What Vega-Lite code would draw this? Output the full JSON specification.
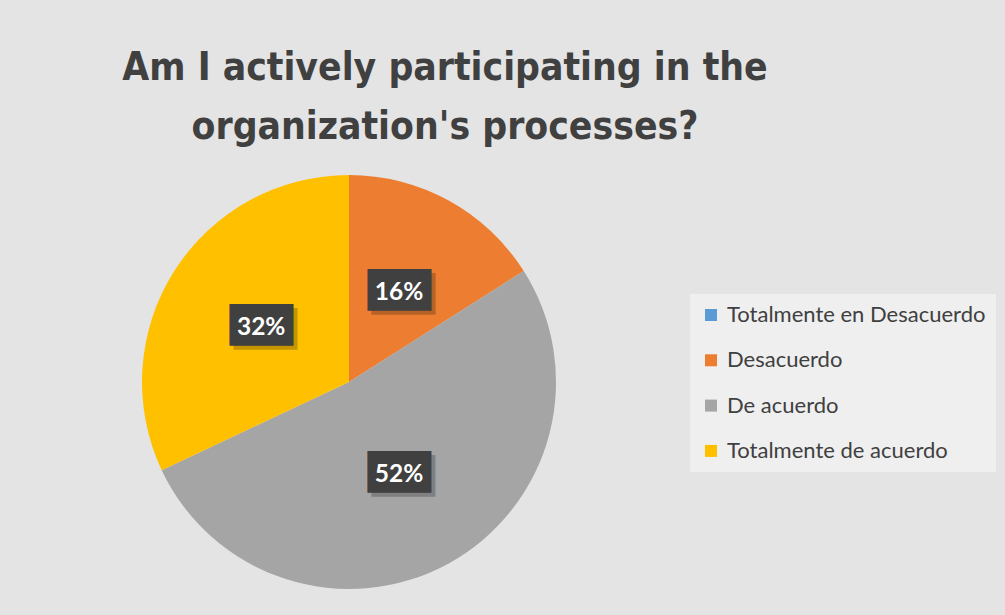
{
  "$schema": "https://vega.github.io/schema/vega-lite/v6.json",
  "width": 414,
  "height": 414,
  "autosize": {"type": "none"},
  "padding": {"left": 142, "top": 175, "right": 449, "bottom": 26},
  "background": "#e4e4e4",
  "title": {
    "text": ["Am I actively participating in the", "organization's processes?"],
    "anchor": "middle",
    "frame": "group",
    "dx": 96,
    "offset": 28,
    "font": "'Liberation Sans Narrow', 'DejaVu Sans Condensed', Lato",
    "fontSize": 38.7,
    "fontWeight": "bold",
    "color": "#404040",
    "lineHeight": 59
  },
  "data": {
    "values": [
      {"cat": "Totalmente en Desacuerdo", "v": 0, "o": 1},
      {"cat": "Desacuerdo", "v": 0.16, "o": 2},
      {"cat": "De acuerdo", "v": 0.52, "o": 3},
      {"cat": "Totalmente de acuerdo", "v": 0.32, "o": 4}
    ]
  },
  "encoding": {
    "theta": {"field": "v", "type": "quantitative", "stack": true},
    "order": {"field": "o", "type": "quantitative"}
  },
  "layer": [
    {
      "mark": {"type": "arc", "outerRadius": 207, "stroke": null},
      "encoding": {
        "color": {
          "field": "cat",
          "type": "nominal",
          "scale": {
            "domain": ["Totalmente en Desacuerdo", "Desacuerdo", "De acuerdo", "Totalmente de acuerdo"],
            "range": ["#5B9BD5", "#ED7D31", "#A5A5A5", "#FFC000"]
          },
          "legend": {
            "title": null,
            "orient": "none",
            "legendX": 548,
            "legendY": 119,
            "symbolType": "square",
            "symbolSize": 144,
            "symbolStrokeWidth": 0,
            "labelFont": "Lato",
            "labelFontSize": 22,
            "labelColor": "#404040",
            "labelOffset": 5,
            "labelLimit": 400,
            "rowPadding": 23.3,
            "padding": 10,
            "fillColor": "#efefef",
            "strokeColor": null
          }
        }
      }
    },
    {
      "transform": [{"filter": "datum.v > 0"}],
      "mark": {"type": "text", "radius": 104, "font": "DejaVu Sans Mono", "fontSize": 35, "align": "center", "baseline": "middle", "dx": 4, "dy": 4, "opacity": 0.22},
      "encoding": {"detail": {"field": "cat"}, "text": {"value": "███"}, "color": {"value": "#000000"}}
    },
    {
      "transform": [{"filter": "datum.v > 0"}],
      "mark": {"type": "text", "radius": 104, "font": "DejaVu Sans Mono", "fontSize": 35, "align": "center", "baseline": "middle"},
      "encoding": {"detail": {"field": "cat"}, "text": {"value": "███"}, "color": {"value": "#404040"}}
    },
    {
      "transform": [{"filter": "datum.v > 0"}],
      "mark": {"type": "text", "radius": 104, "font": "Lato", "fontSize": 24.5, "fontWeight": "bold", "align": "center", "baseline": "middle", "dy": 2},
      "encoding": {"detail": {"field": "cat"}, "text": {"field": "v", "type": "quantitative", "format": ".0%"}, "color": {"value": "#ffffff"}}
    }
  ],
  "config": {"view": {"stroke": null}}
}
